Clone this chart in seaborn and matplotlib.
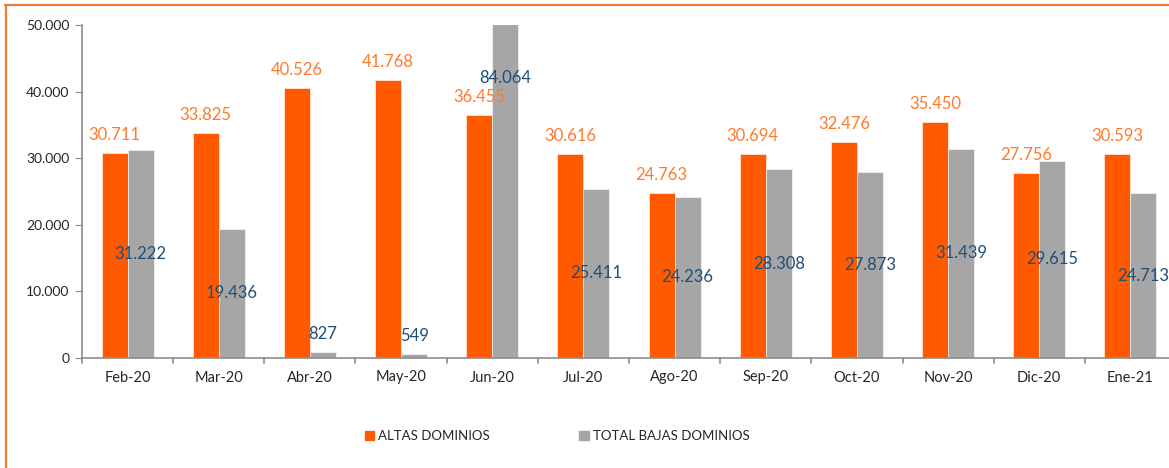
import matplotlib
matplotlib.use("Agg")
import matplotlib.pyplot as plt
import seaborn as sns
import pandas as pd
from matplotlib.lines import Line2D
from matplotlib.patches import Patch

# datos
meses = ["Feb-20", "Mar-20", "Abr-20", "May-20", "Jun-20", "Jul-20",
         "Ago-20", "Sep-20", "Oct-20", "Nov-20", "Dic-20", "Ene-21"]
altas = [30711, 33825, 40526, 41768, 36455, 30616,
         24763, 30694, 32476, 35450, 27756, 30593]
bajas = [31222, 19436, 827, 549, 84064, 25411,
         24236, 28308, 27873, 31439, 29615, 24713]
series = ["ALTAS DOMINIOS", "TOTAL BAJAS DOMINIOS"]

naranja = "#FF5A00"
gris = "#A6A6A6"

df = pd.DataFrame({
    "mes": meses * 2,
    "valor": altas + bajas,
    "serie": [series[0]] * len(meses) + [series[1]] * len(meses),
})

sns.set_style("white")
plt.rcParams["font.family"] = ["Lato", "DejaVu Sans"]

fig = plt.figure(figsize=(11.69, 4.68), dpi=100)
ax = fig.add_axes([82 / 1169, 110 / 468, 1094 / 1169, 333 / 468])

sns.barplot(data=df, x="mes", y="valor", hue="serie", order=meses,
            hue_order=series, palette=[naranja, gris], width=0.57,
            saturation=1, legend=False, ax=ax, edgecolor="white", linewidth=0.4)

ax.set_ylim(0, 50000)
ax.set_xlim(-0.5, len(meses) - 0.5)
ax.set_yticks(range(0, 50001, 10000))
ax.set_yticklabels([f"{v:,}".replace(",", ".") for v in range(0, 50001, 10000)])
ax.set_xlabel("")
ax.set_ylabel("")

for s in ["top", "right"]:
    ax.spines[s].set_visible(False)
for s in ["left", "bottom"]:
    ax.spines[s].set_color("#8C8C8C")
    ax.spines[s].set_linewidth(1.2)

ax.tick_params(axis="y", length=5, color="#8C8C8C", labelsize=10, pad=4, left=True)
ax.tick_params(axis="x", length=0, labelsize=10.5, pad=9)
# marcas entre categorias
for k in range(len(meses) + 1):
    ax.plot([k - 0.5, k - 0.5], [0, -0.015], color="#8C8C8C", lw=1.2,
            transform=ax.get_xaxis_transform(), clip_on=False)

# etiquetas de datos
bw = 0.57 / 2
for i, (a, b) in enumerate(zip(altas, bajas)):
    ax.annotate(f"{a:,}".replace(",", "."), (i - bw / 2, a), xytext=(0, 13),
                textcoords="offset points", ha="center", va="center",
                color="#FF7A2A", fontsize=12)
    if b < 3000:
        ax.annotate(f"{b:,}".replace(",", "."), (i + bw / 2, b), xytext=(0, 13),
                    textcoords="offset points", ha="center", va="center",
                    color="#1F4E79", fontsize=12)
    else:
        ax.text(i + bw / 2, b / 2, f"{b:,}".replace(",", "."), ha="center",
                va="center", color="#1F4E79", fontsize=12)

handles = [Patch(color=naranja), Patch(color=gris)]
fig.legend(handles, series, loc="center", bbox_to_anchor=(557 / 1169, 1 - 436 / 468),
           ncol=2, frameon=False, fontsize=9.5, handlelength=0.7, handleheight=0.7,
           handletextpad=0.3, columnspacing=6.8)

# borde naranja
fig.add_artist(Line2D([5 / 1169, 1], [1 - 4.5 / 468, 1 - 4.5 / 468],
                      color="#ED7D31", lw=1.6, transform=fig.transFigure))
fig.add_artist(Line2D([5.5 / 1169, 5.5 / 1169], [0, 1 - 4.5 / 468],
                      color="#ED7D31", lw=1.6, transform=fig.transFigure))

fig.savefig("out.png", dpi=100)
